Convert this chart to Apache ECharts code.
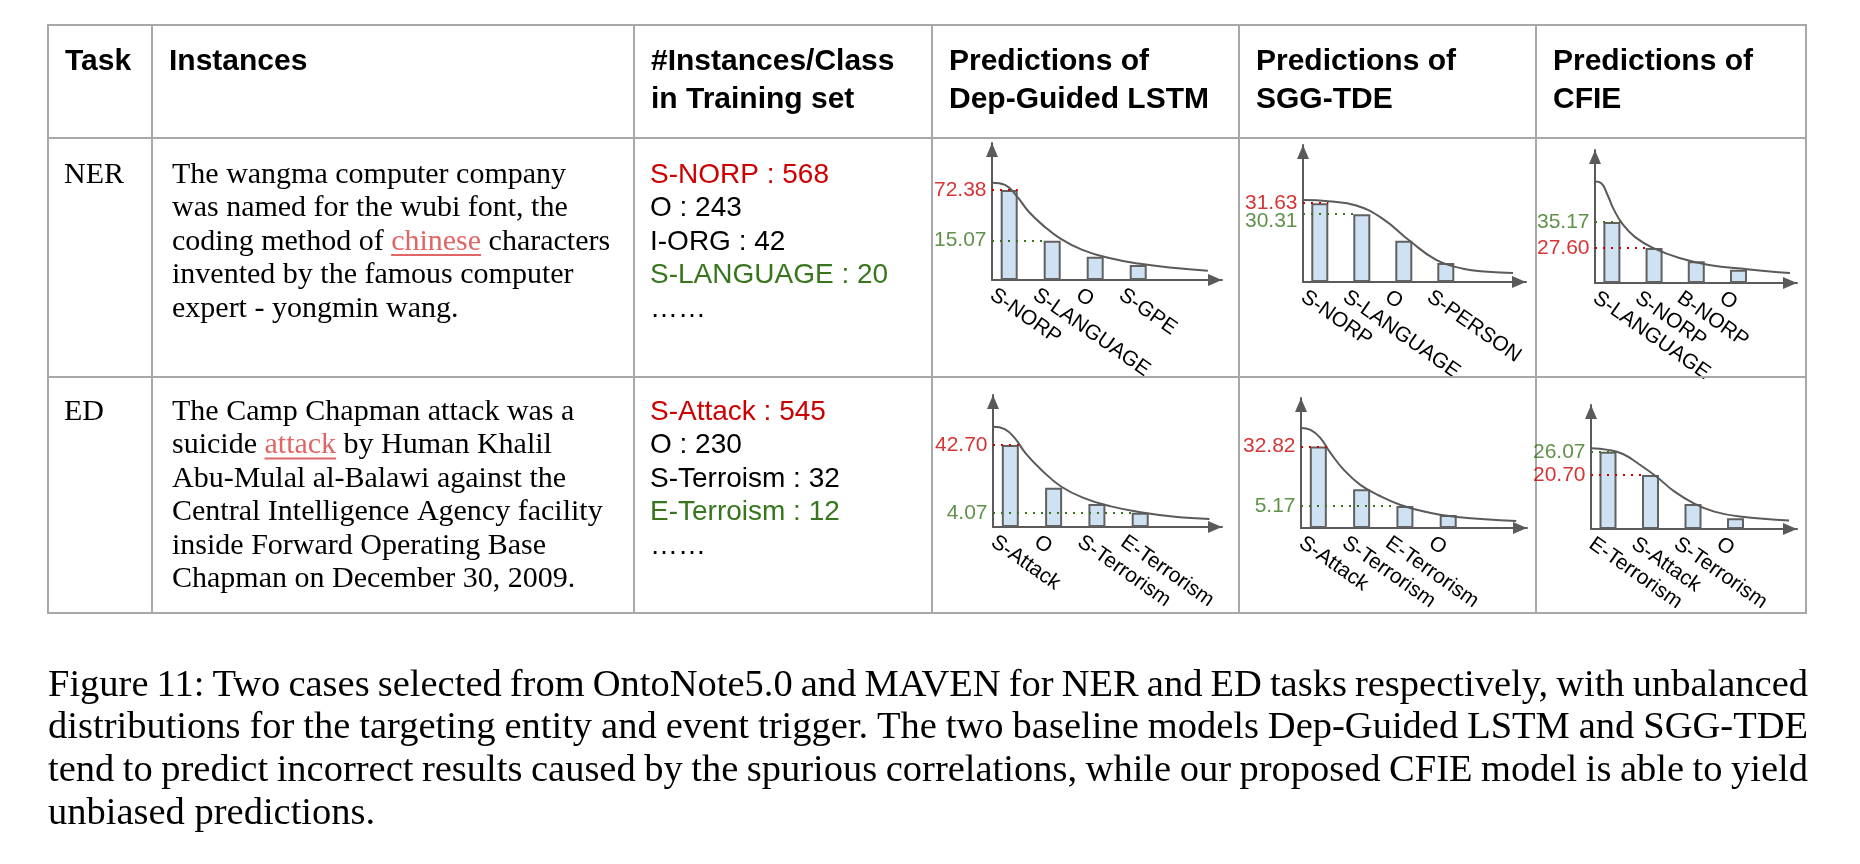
<!DOCTYPE html>
<html>
<head>
<meta charset="utf-8">
<title>Figure 11</title>
<script src="https://cdn.jsdelivr.net/npm/echarts@6/dist/echarts.min.js"></script>
<style>
html, body { margin: 0; padding: 0; background: #fff; }
#main { width: 1860px; height: 864px; }
</style>
</head>
<body>
<div id="main"></div>
<script>
// ---------------- table content ----------------
var headers = [['Task'], ['Instances'], ['#Instances/Class', 'in Training set'],
    ['Predictions of', 'Dep-Guided LSTM'], ['Predictions of', 'SGG-TDE'], ['Predictions of', 'CFIE']];
var tasks = ['NER', 'ED'];

var nerText = ['The wangma computer company', 'was named for the wubi font, the',
    'coding method of chinese characters', 'invented by the famous computer', 'expert - yongmin wang.'];
var edText = ['The Camp Chapman attack was a', 'suicide attack by Human Khalil',
    'Abu-Mulal al-Balawi against the', 'Central Intelligence Agency facility',
    'inside Forward Operating Base', 'Chapman on December 30, 2009.'];
var nerHighlight = [2, 'chinese'];   // [line, word]
var edHighlight = [1, 'attack'];

var nerClasses = ['S-NORP', 'O', 'I-ORG', 'S-LANGUAGE'];
var nerCounts = [568, 243, 42, 20];
var edClasses = ['S-Attack', 'O', 'S-Terroism', 'E-Terroism'];
var edCounts = [545, 230, 32, 12];

// spurious (red) class and correct (green) class of each task
var nerSpurious = 'S-NORP', nerTarget = 'S-LANGUAGE';
var edSpurious = 'S-Attack', edTarget = 'E-Terrorism';

// ---------------- mini charts (schematic heights, 100 = arrow tip) ----------------
var nerDepCats = ['S-NORP', 'S-LANGUAGE', 'O', 'S-GPE'];
var nerDepBars = [65.7, 28.7, 17.0, 10.9];
var nerDepCurve = [[0, 71.0], [0.3, 69.4], [0.58, 61.0], [0.85, 50.0], [1.2, 39.5], [1.6, 30.0],
    [2.1, 22.0], [2.7, 16.2], [3.4, 12.0], [4.2, 9.0], [5.02, 6.8]];
var nerDepScores = [72.38, 15.07];   // [spurious, target]

var nerSggCats = ['S-NORP', 'S-LANGUAGE', 'O', 'S-PERSON'];
var nerSggBars = [57.5, 49.5, 30.1, 13.8];
var nerSggCurve = [[0, 59.9], [0.6, 59.0], [1.27, 55.8], [1.9, 46.1], [2.54, 30.1],
    [3.17, 16.2], [3.81, 9.7], [4.4, 7.5], [5.0, 6.6]];
var nerSggScores = [31.63, 30.31];

var nerCfieCats = ['S-LANGUAGE', 'S-NORP', 'B-NORP', 'O'];
var nerCfieBars = [45.8, 26.3, 16.3, 10.0];
var nerCfieCurve = [[0, 76.3], [0.15, 75.0], [0.3, 66.0], [0.45, 55.0], [0.65, 44.5], [0.95, 34.5],
    [1.4, 26.0], [2.0, 18.8], [2.7, 13.6], [3.6, 10.4], [4.62, 7.5]];
var nerCfieScores = [27.60, 35.17];

var edDepCats = ['S-Attack', 'O', 'S-Terrorism', 'E-Terrorism'];
var edDepBars = [62.1, 29.8, 17.4, 10.8];
var edDepCurve = [[0, 76.0], [0.27, 74.2], [0.5, 67.5], [0.75, 56.0], [1.12, 43.2], [1.58, 30.5],
    [2.12, 21.7], [2.7, 15.8], [3.4, 11.2], [4.2, 7.8], [5.0, 6.1]];
var edDepScores = [42.70, 4.07];

var edSggCats = ['S-Attack', 'S-Terrorism', 'E-Terrorism', 'O'];
var edSggBars = [62.7, 29.8, 17.0, 10.0];
var edSggCurve = [[0, 76.9], [0.22, 75.5], [0.45, 69.2], [0.68, 57.8], [0.99, 44.7], [1.37, 33.2],
    [1.8, 25.0], [2.3, 17.7], [2.9, 12.3], [3.6, 8.4], [4.97, 5.4]];
var edSggScores = [32.82, 5.17];

var edCfieCats = ['E-Terrorism', 'S-Attack', 'S-Terrorism', 'O'];
var edCfieBars = [62.3, 43.5, 20.2, 8.6];
var edCfieCurve = [[0, 65.1], [0.4, 63.8], [0.75, 60.5], [1.1, 53.0], [1.55, 42.0], [1.95, 30.5],
    [2.42, 20.7], [2.9, 14.0], [3.5, 10.0], [4.66, 6.9]];
var edCfieScores = [20.70, 26.07];

var captionLines = [
    'Figure 11: Two cases selected from OntoNote5.0 and MAVEN for NER and ED tasks respectively, with unbalanced',
    'distributions for the targeting entity and event trigger. The two baseline models Dep-Guided LSTM and SGG-TDE',
    'tend to predict incorrect results caused by the spurious correlations, while our proposed CFIE model is able to yield',
    'unbiased predictions.'
];

// ---------------- layout ----------------
var RED = '#cc0000', GREEN = '#38761d', GRID = '#a8a8a8', AXIS = '#5a5a5a';
var SANS = 'Liberation Sans', SERIF = 'Liberation Serif';
var colX = [48, 152, 634, 932, 1239, 1536, 1806];
var rowY = [25, 138, 377, 613];
var lineGap = 33.5;

var panels = [
    {cats: nerDepCats, bars: nerDepBars, curve: nerDepCurve, scores: nerDepScores, spurious: nerSpurious, target: nerTarget,
        left: 992, top: 143, width: 230, height: 137, step: 43},
    {cats: nerSggCats, bars: nerSggBars, curve: nerSggCurve, scores: nerSggScores, spurious: nerSpurious, target: nerTarget,
        left: 1303, top: 145, width: 223, height: 137, step: 42},
    {cats: nerCfieCats, bars: nerCfieBars, curve: nerCfieCurve, scores: nerCfieScores, spurious: nerSpurious, target: nerTarget,
        left: 1595, top: 150, width: 202, height: 133, step: 42.2},
    {cats: edDepCats, bars: edDepBars, curve: edDepCurve, scores: edDepScores, spurious: edSpurious, target: edTarget,
        left: 993, top: 395, width: 229, height: 132, step: 43.3},
    {cats: edSggCats, bars: edSggBars, curve: edSggCurve, scores: edSggScores, spurious: edSpurious, target: edTarget,
        left: 1301, top: 398, width: 226, height: 130, step: 43.3},
    {cats: edCfieCats, bars: edCfieBars, curve: edCfieCurve, scores: edCfieScores, spurious: edSpurious, target: edTarget,
        left: 1591, top: 405, width: 206, height: 124, step: 42.5}
];

var measureCtx = document.createElement('canvas').getContext('2d');
function textWidth(s, size, family, weight) {
    measureCtx.font = (weight || 'normal') + ' ' + size + 'px "' + family + '"';
    return measureCtx.measureText(s).width;
}

var g = [];
function addText(x, y, s, size, family, color, weight) {
    g.push({type: 'text', x: x, y: y, silent: true, z: 10,
        style: {text: s, fontSize: size, fontFamily: family, fontWeight: weight || 'normal',
            fill: color || '#000', verticalAlign: 'middle', align: 'left'}});
}
function addRule(x1, y1, x2, y2, color, w) {
    g.push({type: 'line', silent: true, z: 5, shape: {x1: x1, y1: y1, x2: x2, y2: y2},
        style: {stroke: color, lineWidth: w}});
}

// table rules
colX.forEach(function (x) { addRule(x, rowY[0] - 1, x, rowY[3] + 1, GRID, 2); });
rowY.forEach(function (y) { addRule(colX[0], y, colX[6], y, GRID, 2); });

// header
headers.forEach(function (lines, c) {
    lines.forEach(function (s, k) {
        addText(colX[c] + 17, 62 + k * 38, s, 30, SANS, '#000', 'bold');
    });
});

// body rows
function addInstance(lines, hl, y0) {
    lines.forEach(function (s, k) {
        var y = y0 + k * lineGap, x = colX[1] + 20;
        if (k !== hl[0]) { addText(x, y, s, 30, SERIF); return; }
        var at = s.indexOf(hl[1]);
        var pre = s.slice(0, at), post = s.slice(at + hl[1].length);
        var w0 = textWidth(pre, 30, SERIF), w1 = textWidth(hl[1], 30, SERIF);
        addText(x, y, pre, 30, SERIF);
        addText(x + w0, y, hl[1], 30, SERIF, '#e06666');
        addText(x + w0 + w1, y, post, 30, SERIF);
        addRule(x + w0, y + 13, x + w0 + w1, y + 13, '#e06666', 2);
    });
}
function addCounts(classes, counts, y0) {
    classes.forEach(function (c, k) {
        var col = k === 0 ? RED : (k === classes.length - 1 ? GREEN : '#000');
        addText(colX[2] + 16, y0 + k * lineGap, c + ' : ' + counts[k], 28, SANS, col);
    });
    addText(colX[2] + 16, y0 + classes.length * lineGap, '\u2026\u2026', 28, SANS);
}
addText(colX[0] + 16, rowY[1] + 37, tasks[0], 30, SERIF);
addText(colX[0] + 16, rowY[2] + 35, tasks[1], 30, SERIF);
addInstance(nerText, nerHighlight, rowY[1] + 37);
addInstance(edText, edHighlight, rowY[2] + 35);
addCounts(nerClasses, nerCounts, rowY[1] + 37);
addCounts(edClasses, edCounts, rowY[2] + 35);

// caption, justified like the paper
var CAP = 38.5;
captionLines.forEach(function (line, k) {
    var y = 685.5 + k * 42.7, left = colX[0], right = colX[6] + 2;
    var words = line.split(' ');
    var widths = words.map(function (w) { return textWidth(w, CAP, SERIF); });
    var total = widths.reduce(function (a, b) { return a + b; }, 0);
    var last = k === captionLines.length - 1;
    var gap = last ? textWidth(' ', CAP, SERIF) : (right - left - total) / (words.length - 1);
    var x = left;
    words.forEach(function (w, i) {
        addText(x, y, w, CAP, SERIF);
        x += widths[i] + gap;
    });
});

// ---------------- charts ----------------
var grids = [], xAxes = [], yAxes = [], series = [];

function guide(p, cls, color) {
    var k = p.cats.indexOf(cls);
    var pos = k + 0.4, half = 8.5 / p.step;
    var end = k === 0 ? pos + half : pos - half;
    return [{coord: [0, p.bars[k]], lineStyle: {color: color, type: [2, 6], width: 2}},
        {coord: [end, p.bars[k]]}];
}
function scoreLabel(p, cls, score, color, shift) {
    return {
        value: [0, p.bars[p.cats.indexOf(cls)]],
        label: {show: true, position: 'left', distance: 5, offset: [0, shift],
            formatter: score.toFixed(2), color: color, fontSize: 21, fontFamily: SANS}
    };
}

panels.forEach(function (p, i) {
    grids.push({left: p.left, top: p.top, width: p.width, height: p.height, outerBoundsMode: 'none'});
    xAxes.push({
        type: 'value', gridIndex: i, min: 0, max: p.width / p.step, interval: 1,
        splitLine: {show: false}, axisTick: {show: false},
        axisLine: {show: true, onZero: true, symbol: ['none', 'triangle'], symbolSize: [12, 14],
            symbolOffset: [0, -7], lineStyle: {color: AXIS, width: 2}},
        axisLabel: {
            show: true, rotate: -35, margin: 13, fontSize: 21, fontFamily: SANS, color: '#000',
            hideOverlap: false, showMinLabel: true, showMaxLabel: true,
            formatter: function (v) {
                return (Math.abs(v - Math.round(v)) < 1e-6 && p.cats[Math.round(v)]) ? p.cats[Math.round(v)] : '';
            }
        }
    });
    yAxes.push({
        type: 'value', gridIndex: i, min: 0, max: 100,
        splitLine: {show: false}, axisTick: {show: false}, axisLabel: {show: false},
        axisLine: {show: true, symbol: ['none', 'triangle'], symbolSize: [12, 14],
            symbolOffset: [0, -7], lineStyle: {color: AXIS, width: 2}}
    });

    // keep the two score labels apart when their lines are close
    var hs = p.bars[p.cats.indexOf(p.spurious)], ht = p.bars[p.cats.indexOf(p.target)];
    var dy = Math.abs(hs - ht) / 100 * p.height;
    var push = Math.max(0, 18 - dy);

    series.push({
        type: 'bar', xAxisIndex: i, yAxisIndex: i, silent: true, barWidth: 17,
        data: p.bars.map(function (h, k) { return [k + 0.4, h]; }),
        itemStyle: {color: '#cfe2f3', borderColor: '#616161', borderWidth: 2},
        markLine: {
            silent: true, symbol: ['none', 'none'], animation: false, label: {show: false},
            data: [guide(p, p.spurious, RED), guide(p, p.target, GREEN)]
        }
    });
    series.push({
        type: 'line', xAxisIndex: i, yAxisIndex: i, silent: true, z: 3,
        data: p.curve, smooth: 0.45, symbol: 'none',
        lineStyle: {color: AXIS, width: 2}
    });
    series.push({
        type: 'scatter', xAxisIndex: i, yAxisIndex: i, silent: true, z: 6,
        symbolSize: 1, itemStyle: {color: 'rgba(0,0,0,0)'},
        data: [scoreLabel(p, p.spurious, p.scores[0], RED, hs < ht ? push : 0),
            scoreLabel(p, p.target, p.scores[1], GREEN, ht < hs ? push : 0)]
    });
});

var chart = echarts.init(document.getElementById('main'));
chart.setOption({
    animation: false,
    backgroundColor: '#fff',
    grid: grids,
    xAxis: xAxes,
    yAxis: yAxes,
    series: series,
    graphic: {elements: g}
});
</script>
</body>
</html>
